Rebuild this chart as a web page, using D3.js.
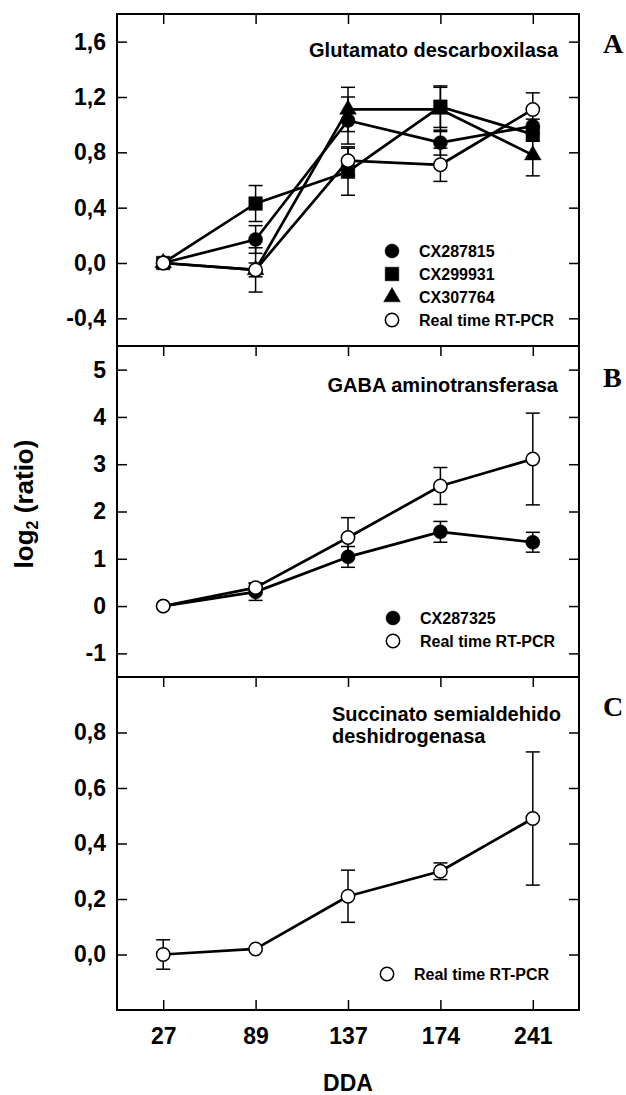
<!doctype html>
<html>
<head>
<meta charset="UTF-8">
<title>log2 (ratio) - DDA</title>
<script src="https://cdn.jsdelivr.net/npm/d3@7"></script>
<style>
    body { margin: 0; background: #fff; }
    text { font-family: "Liberation Sans", Arial, Helvetica, sans-serif; font-weight: bold; fill: #000; }
</style>
</head>
<body>
<svg id="chart" width="626" height="1095"></svg>
<script>
// x categories (DDA)
var days = ["27", "89", "137", "174", "241"];

// panel A - Glutamato descarboxilasa
var ticksA = [-0.4, 0, 0.4, 0.8, 1.2, 1.6];
var cx287815 = [0, 0.17, 1.03, 0.87, 0.99];
var cx287815Err = [0, 0.10, 0.17, 0.09, 0.05];
var cx299931 = [0, 0.43, 0.66, 1.13, 0.93];
var cx299931Err = [0, 0.13, 0.17, 0.15, 0.05];
var cx307764 = [0, -0.05, 1.11, 1.11, 0.78];
var cx307764Err = [0, 0.05, 0.16, 0.16, 0.15];
var rtpcrA = [0, -0.05, 0.74, 0.71, 1.11];
var rtpcrAErr = [0, 0.16, 0.10, 0.12, 0.12];

// panel B - GABA aminotransferasa
var ticksB = [-1, 0, 1, 2, 3, 4, 5];
var cx287325 = [0, 0.30, 1.04, 1.57, 1.35];
var cx287325Err = [0, 0.18, 0.22, 0.22, 0.21];
var rtpcrB = [0, 0.39, 1.45, 2.54, 3.11];
var rtpcrBErr = [0, 0.10, 0.42, 0.39, 0.97];

// panel C - Succinato semialdehido deshidrogenasa
var ticksC = [0, 0.2, 0.4, 0.6, 0.8];
var rtpcrC = [0, 0.02, 0.21, 0.30, 0.49];
var rtpcrCErr = [0.053, 0, 0.094, 0.03, 0.24];

var left = 117, right = 579;
// decimal comma and plain hyphen for negatives, as in the figure
var comma = function(dec) {
    return function(v) { return d3.format("." + dec + "f")(v).replace(".", ",").replace("\u2212", "-"); };
};

var panels = [
    {top: 14, bottom: 346, domain: [-0.6, 1.8], ticks: ticksA, fmt: comma(1),
     title: ["Glutamato descarboxilasa"], titleX: 558, titleY: 57, anchor: "end",
     letter: "A", letterY: 53, legX: 392, legY: 251,
     series: [
        {name: "CX287815", v: cx287815, e: cx287815Err, sym: "circle"},
        {name: "CX299931", v: cx299931, e: cx299931Err, sym: "square"},
        {name: "CX307764", v: cx307764, e: cx307764Err, sym: "triangle"},
        {name: "Real time RT-PCR", v: rtpcrA, e: rtpcrAErr, sym: "open"}
     ]},
    {top: 346, bottom: 677, domain: [-1.5, 5.5], ticks: ticksB, fmt: comma(0),
     title: ["GABA aminotransferasa"], titleX: 558, titleY: 392, anchor: "end",
     letter: "B", letterY: 387, legX: 393, legY: 618,
     series: [
        {name: "CX287325", v: cx287325, e: cx287325Err, sym: "circle"},
        {name: "Real time RT-PCR", v: rtpcrB, e: rtpcrBErr, sym: "open"}
     ]},
    {top: 677, bottom: 1010, domain: [-0.2, 1.0], ticks: ticksC, fmt: comma(1),
     title: ["Succinato semialdehido", "deshidrogenasa"], titleX: 332, titleY: 721, anchor: "start",
     letter: "C", letterY: 716, legX: 387, legY: 974,
     series: [
        {name: "Real time RT-PCR", v: rtpcrC, e: rtpcrCErr, sym: "open"}
     ]}
];

var svg = d3.select("#chart");
var x = d3.scalePoint().domain(days).range([left, right]).padding(0.5);

var symbolPath = {
    circle: d3.symbol().type(d3.symbolCircle).size(155)(),
    open: d3.symbol().type(d3.symbolCircle).size(140)(),
    square: d3.symbol().type(d3.symbolSquare).size(185)(),
    triangle: d3.symbol().type(d3.symbolTriangle).size(120)()
};

function drawSymbol(g, sym, cx, cy) {
    g.append("path")
        .attr("d", symbolPath[sym])
        .attr("transform", "translate(" + cx + "," + cy + ")")
        .attr("fill", sym === "open" ? "#fff" : "#000")
        .attr("stroke", "#000")
        .attr("stroke-width", sym === "open" ? 1.5 : 0.5);
}

panels.forEach(function(p, pi) {
    var y = d3.scaleLinear().domain(p.domain).range([p.bottom, p.top]);
    var g = svg.append("g");

    // axes, all ticks inward
    var la = g.append("g").attr("transform", "translate(" + left + ",0)")
        .call(d3.axisLeft(y).tickValues(p.ticks).tickSize(-10).tickPadding(11).tickFormat(p.fmt));
    la.selectAll("text").style("font-size", "23px");
    g.append("g").attr("transform", "translate(" + right + ",0)")
        .call(d3.axisRight(y).tickValues(p.ticks).tickSize(-10).tickFormat(""));
    g.append("g").attr("transform", "translate(0," + p.top + ")")
        .call(d3.axisTop(x).tickSize(-10).tickFormat(""));
    if (pi === panels.length - 1) {
        var ba = g.append("g").attr("transform", "translate(0," + p.bottom + ")")
            .call(d3.axisBottom(x).tickSize(-10).tickPadding(18));
        ba.selectAll("text").style("font-size", "23px");
    }
    g.selectAll(".domain").remove();
    g.selectAll(".tick line").attr("stroke-width", 1.5);

    g.append("rect")
        .attr("x", left).attr("y", p.top)
        .attr("width", right - left).attr("height", p.bottom - p.top)
        .attr("fill", "none").attr("stroke", "#000").attr("stroke-width", 2);

    // error bars
    p.series.forEach(function(s) {
        var eb = g.append("g").attr("stroke", "#000").attr("stroke-width", 1.5);
        days.forEach(function(d, i) {
            if (!s.e[i]) return;
            var y1 = y(s.v[i] + s.e[i]), y2 = y(s.v[i] - s.e[i]), cx = x(d);
            eb.append("line").attr("x1", cx).attr("x2", cx).attr("y1", y1).attr("y2", y2);
            eb.append("line").attr("x1", cx - 7).attr("x2", cx + 7).attr("y1", y1).attr("y2", y1);
            eb.append("line").attr("x1", cx - 7).attr("x2", cx + 7).attr("y1", y2).attr("y2", y2);
        });
    });

    // lines
    var line = d3.line().x(function(d, i) { return x(days[i]); }).y(function(d) { return y(d); });
    p.series.forEach(function(s) {
        g.append("path").attr("d", line(s.v))
            .attr("fill", "none").attr("stroke", "#000").attr("stroke-width", 2.7)
            .attr("stroke-linejoin", "round");
    });

    // markers
    p.series.forEach(function(s) {
        s.v.forEach(function(v, i) { drawSymbol(g, s.sym, x(days[i]), y(v)); });
    });

    // legend
    p.series.forEach(function(s, i) {
        var ly = p.legY + i * 23;
        drawSymbol(g, s.sym, p.legX, ly);
        g.append("text").attr("x", p.legX + 27).attr("y", ly).attr("dy", "0.36em")
            .style("font-size", "16px").text(s.name);
    });

    // title
    p.title.forEach(function(t, i) {
        g.append("text").attr("x", p.titleX).attr("y", p.titleY + i * 22)
            .attr("text-anchor", p.anchor).style("font-size", "20px").text(t);
    });

    // panel letter
    g.append("text").attr("x", 603).attr("y", p.letterY)
        .style("font-family", "'Liberation Serif', 'Times New Roman', serif")
        .style("font-size", "28px").text(p.letter);
});

// axis titles
var yl = svg.append("text")
    .attr("transform", "translate(33,504) rotate(-90)")
    .attr("text-anchor", "middle")
    .style("font-size", "26px");
yl.append("tspan").text("log");
yl.append("tspan").attr("dy", "0.3em").style("font-size", "16px").text("2");
yl.append("tspan").attr("dy", "-0.19em").text(" (ratio)");

svg.append("text").attr("x", (left + right) / 2).attr("y", 1091)
    .attr("text-anchor", "middle").style("font-size", "23px").text("DDA");
</script>
</body>
</html>
